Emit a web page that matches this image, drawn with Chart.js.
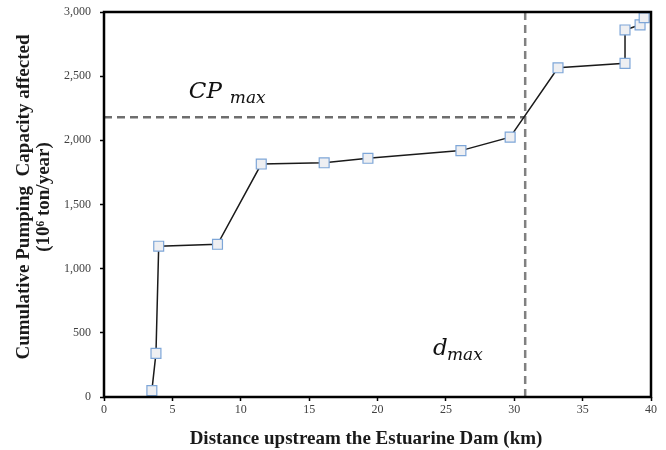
<!DOCTYPE html>
<html>
<head>
<meta charset="utf-8">
<script src="https://cdn.jsdelivr.net/npm/chart.js@4.4.0/dist/chart.umd.min.js"></script>
<style>
  html, body { margin: 0; padding: 0; background: #fff; }
  #wrap { width: 666px; height: 450px; position: relative; }
</style>
</head>
<body>
<div id="wrap"><canvas id="cpChart"></canvas></div>
<script>
// distance upstream (km) and cumulative pumping capacity (10^6 ton/year)
const distKm = [3.5, 3.8, 4.0, 8.3, 11.5, 16.1, 19.3, 26.1, 29.7, 33.2, 38.1, 38.1, 39.2, 39.5]
const cumCap = [50, 340, 1175, 1190, 1815, 1825, 1860, 1920, 2025, 2565, 2600, 2860, 2900, 2955]

// threshold guide lines
const dMax = 30.8
const cpMax = 2180

const xTicks = [0, 5, 10, 15, 20, 25, 30, 35, 40]
const yTicks = [0, 500, 1000, 1500, 2000, 2500, 3000]

const xTitle = 'Distance upstream the Estuarine Dam (km)'
const yTitle = ['Cumulative Pumping  Capacity affected', '(10\u2076 ton/year)']

const serif = "'Liberation Serif', 'Times New Roman', serif"

const points = distKm.map((d, i) => ({ x: d, y: cumCap[i] }))

// thick black box round the plot area, axis titles and the italic labels
const framePlugin = {
  id: 'frame',
  afterDatasetsDraw(chart) {
    const { ctx, chartArea: a, scales: { x, y } } = chart
    ctx.save()
    ctx.strokeStyle = '#000'
    ctx.lineWidth = 2.5
    ctx.strokeRect(a.left, a.top, a.right - a.left, a.bottom - a.top)

    // axis titles (the original sits them a bit off the plot centre)
    ctx.fillStyle = '#1a1a1a'
    ctx.font = 'bold 19px ' + serif
    ctx.textAlign = 'center'
    ctx.textBaseline = 'alphabetic'
    ctx.fillText(xTitle, 366, 444)

    ctx.save()
    ctx.translate(0, 197)
    ctx.rotate(-Math.PI / 2)
    ctx.fillText(yTitle[0], 0, 29)
    ctx.fillText(yTitle[1], 0, 49)
    ctx.restore()

    ctx.fillStyle = '#111'
    ctx.textAlign = 'left'
    // CP max
    let px = x.getPixelForValue(6.2), py = y.getPixelForValue(2328)
    ctx.font = "italic 23px 'DejaVu Serif', " + serif
    ctx.fillText('CP', px, py)
    ctx.font = "italic 17px 'DejaVu Serif', " + serif
    ctx.fillText('max', px + 41, py + 5)
    // d max
    px = x.getPixelForValue(24.05); py = y.getPixelForValue(325)
    ctx.font = "italic 23px 'DejaVu Serif', " + serif
    ctx.fillText('d', px, py)
    ctx.font = "italic 17px 'DejaVu Serif', " + serif
    ctx.fillText('max', px + 14, py + 5)
    ctx.restore()
  }
}

new Chart(document.getElementById('cpChart'), {
  type: 'scatter',
  data: {
    datasets: [
      {
        data: points,
        showLine: true,
        borderColor: '#1a1a1a',
        borderWidth: 1.5,
        pointStyle: 'rect',
        pointRadius: 7,
        pointBorderWidth: 1.2,
        pointBorderColor: '#7ea6d8',
        pointBackgroundColor: '#eeeff2',
        order: 0
      },
      {
        data: [{ x: 0, y: cpMax }, { x: dMax, y: cpMax }],
        showLine: true,
        borderColor: '#6e6e6e',
        borderWidth: 2.5,
        borderDash: [8, 5],
        pointRadius: 0,
        order: 1
      },
      {
        data: [{ x: dMax, y: 0 }, { x: dMax, y: 3000 }],
        showLine: true,
        borderColor: '#808080',
        borderWidth: 2.5,
        borderDash: [8, 5],
        pointRadius: 0,
        order: 1
      }
    ]
  },
  options: {
    responsive: true,
    maintainAspectRatio: false,
    animation: false,
    layout: { padding: { top: 12, right: 15, left: 0, bottom: 0 } },
    plugins: {
      legend: { display: false },
      tooltip: { enabled: false }
    },
    scales: {
      x: {
        type: 'linear',
        min: 0,
        max: 40,
        afterBuildTicks: s => { s.ticks = xTicks.map(v => ({ value: v })) },
        afterFit: s => { s.height = 53; s.paddingLeft = 0; s.paddingRight = 0 },
        grid: { drawOnChartArea: false, drawTicks: true, tickLength: 4, tickColor: '#000', tickWidth: 1.5 },
        border: { display: false },
        ticks: { color: '#404040', font: { family: serif, size: 12 }, padding: 2, maxRotation: 0 }
      },
      y: {
        type: 'linear',
        min: 0,
        max: 3000,
        afterBuildTicks: s => { s.ticks = yTicks.map(v => ({ value: v })) },
        afterFit: s => { s.width = 104; s.paddingTop = 0; s.paddingBottom = 0 },
        grid: { drawOnChartArea: false, drawTicks: true, tickLength: 4, tickColor: '#000', tickWidth: 1.5 },
        border: { display: false },
        ticks: {
          color: '#404040',
          font: { family: serif, size: 12 },
          padding: 9,
          callback: v => v.toLocaleString('en-US')
        }
      }
    }
  },
  plugins: [framePlugin]
})
</script>
</body>
</html>
